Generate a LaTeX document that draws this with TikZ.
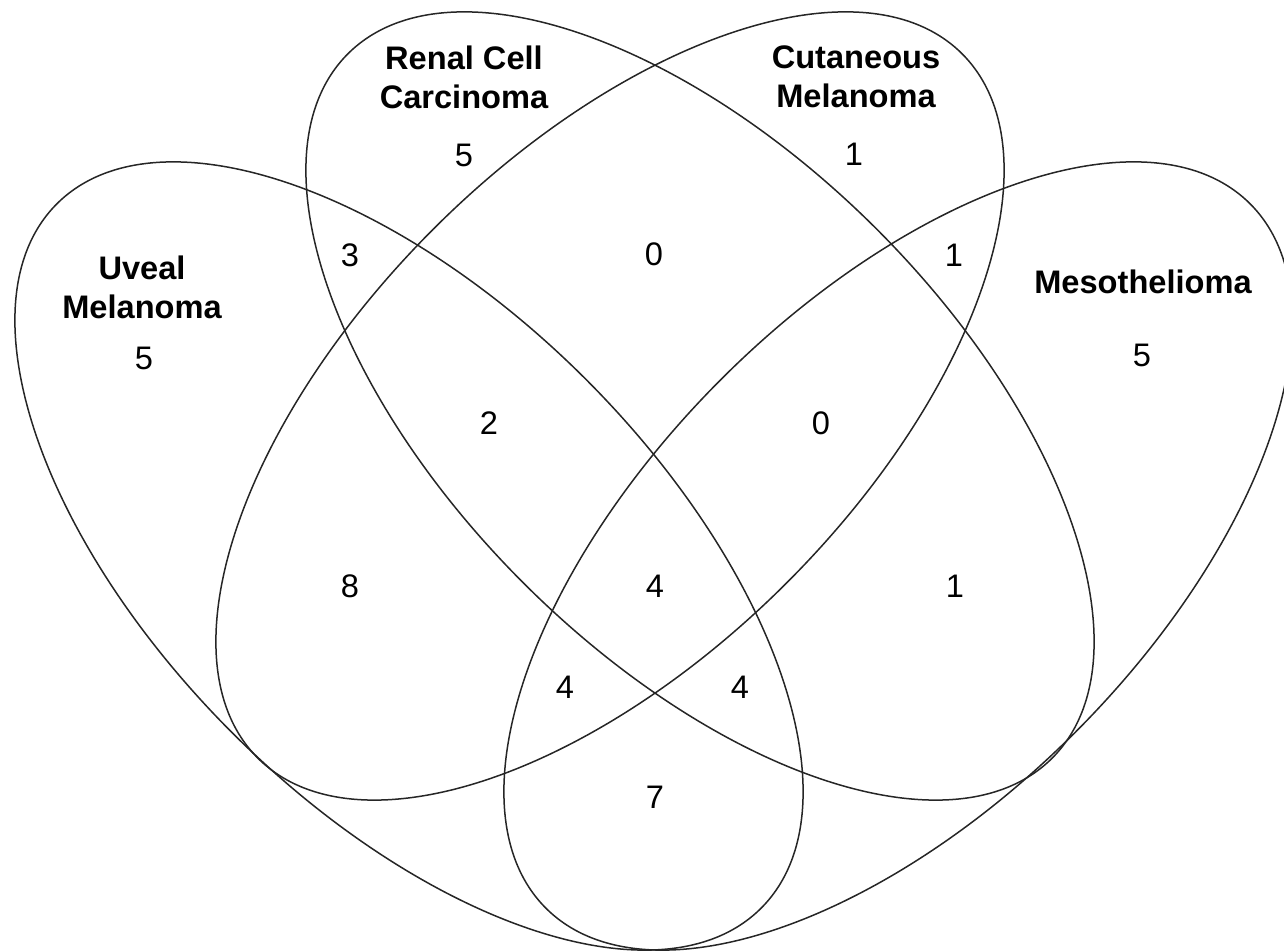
\documentclass[tikz,border=0pt]{standalone}
\usepackage{fontspec}
\setmainfont{Liberation Sans}
\begin{document}
\begin{tikzpicture}[x=0.5pt, y=0.5pt,
  setline/.style={line width=0.75pt, black!85},
  setname/.style={font=\fontsize{16.3}{19.5}\selectfont\bfseries, align=center, inner sep=0pt},
  count/.style={font=\fontsize{16.3}{19.5}\selectfont, inner sep=0pt}]
  \useasboundingbox (0,0) rectangle (1284,952);
  % the four sets
  \coordinate (cuveal) at (409,396);
  \coordinate (crenal) at (700,546);
  \coordinate (ccutan) at (610,546);
  \coordinate (cmeso) at (898,396);
  \draw[setline, rotate around={-45:(cuveal)}] (cuveal) ellipse [x radius=498, y radius=250];
  \draw[setline, rotate around={-45:(crenal)}] (crenal) ellipse [x radius=498, y radius=250];
  \draw[setline, rotate around={45:(ccutan)}] (ccutan) ellipse [x radius=498, y radius=250];
  \draw[setline, rotate around={45:(cmeso)}] (cmeso) ellipse [x radius=498, y radius=250];
  % set names
  \node[setname] (renal) at (464,875) {Renal Cell\\Carcinoma};
  \node[setname] (cutan) at (856,875) {Cutaneous\\Melanoma};
  \node[setname] (uveal) at (142,665) {Uveal\\Melanoma};
  \node[setname] (meso) at (1143,670) {Mesothelioma};
  % counts
  \node[count] (n-r) at (464,797) {5};
  \node[count] (n-c) at (854,798) {1};
  \node[count] (n-ur) at (350,697) {3};
  \node[count] (n-rc) at (654,698) {0};
  \node[count] (n-cm) at (954,697) {1};
  \node[count] (n-u) at (144,594) {5};
  \node[count] (n-m) at (1142,597) {5};
  \node[count] (n-urc) at (489,529) {2};
  \node[count] (n-rcm) at (821,529) {0};
  \node[count] (n-uc) at (350,366) {8};
  \node[count] (n-all) at (655,366) {4};
  \node[count] (n-rm) at (955,366) {1};
  \node[count] (n-ucm) at (565,265) {4};
  \node[count] (n-urm) at (740,265) {4};
  \node[count] (n-um) at (655,155) {7};
\end{tikzpicture}
\end{document}
